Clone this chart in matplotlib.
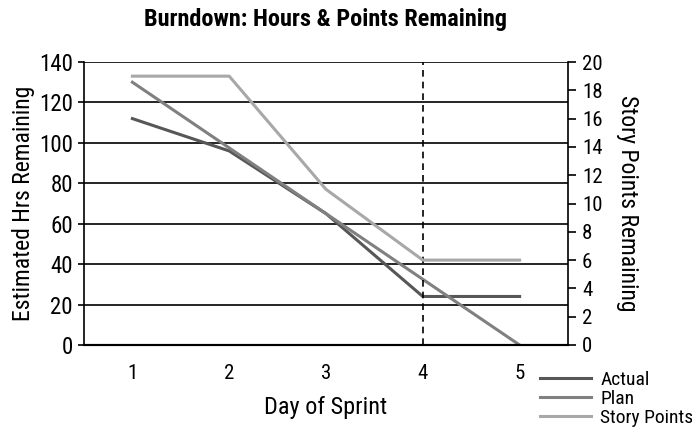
import matplotlib
matplotlib.use('Agg')
import matplotlib.pyplot as plt

plt.rcParams['font.family'] = ['Liberation Sans Narrow', 'Roboto Condensed', 'DejaVu Sans']
plt.rcParams['font.stretch'] = 'condensed'

days = [1, 2, 3, 4, 5]
actual_hrs = [112, 96, 65, 24, 24]
plan_hrs = [130, 97.5, 65, 32.5, 0]
story_points = [19, 19, 11, 6, 6]
today = 4

fig = plt.figure(figsize=(6.92, 4.34), dpi=100)
ax = fig.add_axes([84 / 692, 1 - 345 / 434, 484 / 692, 283 / 434])
ax2 = ax.twinx()

ax.set_xlim(0.5, 5.5)
ax.set_ylim(0, 140)
ax.set_yticks(range(0, 141, 20))
ax.set_xticks(days)
ax.grid(axis='y', color='black', linewidth=1.2)
ax.set_axisbelow(True)

l1, = ax.plot(days, actual_hrs, color='#575757', linewidth=2.2, label='Actual')
l2, = ax.plot(days, plan_hrs, color='#808080', linewidth=2.2, label='Plan')
ax.axvline(today, color='black', linestyle=(0, (4, 3)), linewidth=1.2)

ax2.set_ylim(0, 20)
ax2.set_yticks(range(0, 21, 2))
l3, = ax2.plot(days, story_points, color='#a8a8a8', linewidth=2.2, label='Story Points')

for a in (ax, ax2):
    for s in ('top', 'right', 'left'):
        a.spines[s].set_visible(False)
    a.spines['bottom'].set_linewidth(1.5)
ax2.spines['right'].set_visible(True)
ax2.spines['right'].set_linewidth(1.2)
ax.spines['left'].set_visible(True)
ax.spines['left'].set_linewidth(1.2)

ax.tick_params(axis='y', labelsize=16.5, length=4, width=1.2, pad=4)
ax.tick_params(axis='x', labelsize=15, length=0, pad=14)
ax2.tick_params(axis='y', labelsize=15, length=6, width=1.2, pad=4)

ax.set_xlabel('Day of Sprint', fontsize=17.5, labelpad=9)
ax.set_ylabel('Estimated Hrs Remaining', fontsize=17, labelpad=3)
ax2.set_ylabel('Story Points Remaining', fontsize=17, rotation=270, labelpad=26)

ax.set_title('Burndown: Hours & Points Remaining', fontsize=17.5, fontweight='bold', pad=26)

fig.legend(handles=[l1, l2, l3], loc='upper left', bbox_to_anchor=(540 / 692, 1 - 371 / 434),
           frameon=False, fontsize=14, handlelength=2.6, labelspacing=0.05,
           handletextpad=0.5, borderaxespad=0, borderpad=0)

fig.savefig('out.png', dpi=100)
